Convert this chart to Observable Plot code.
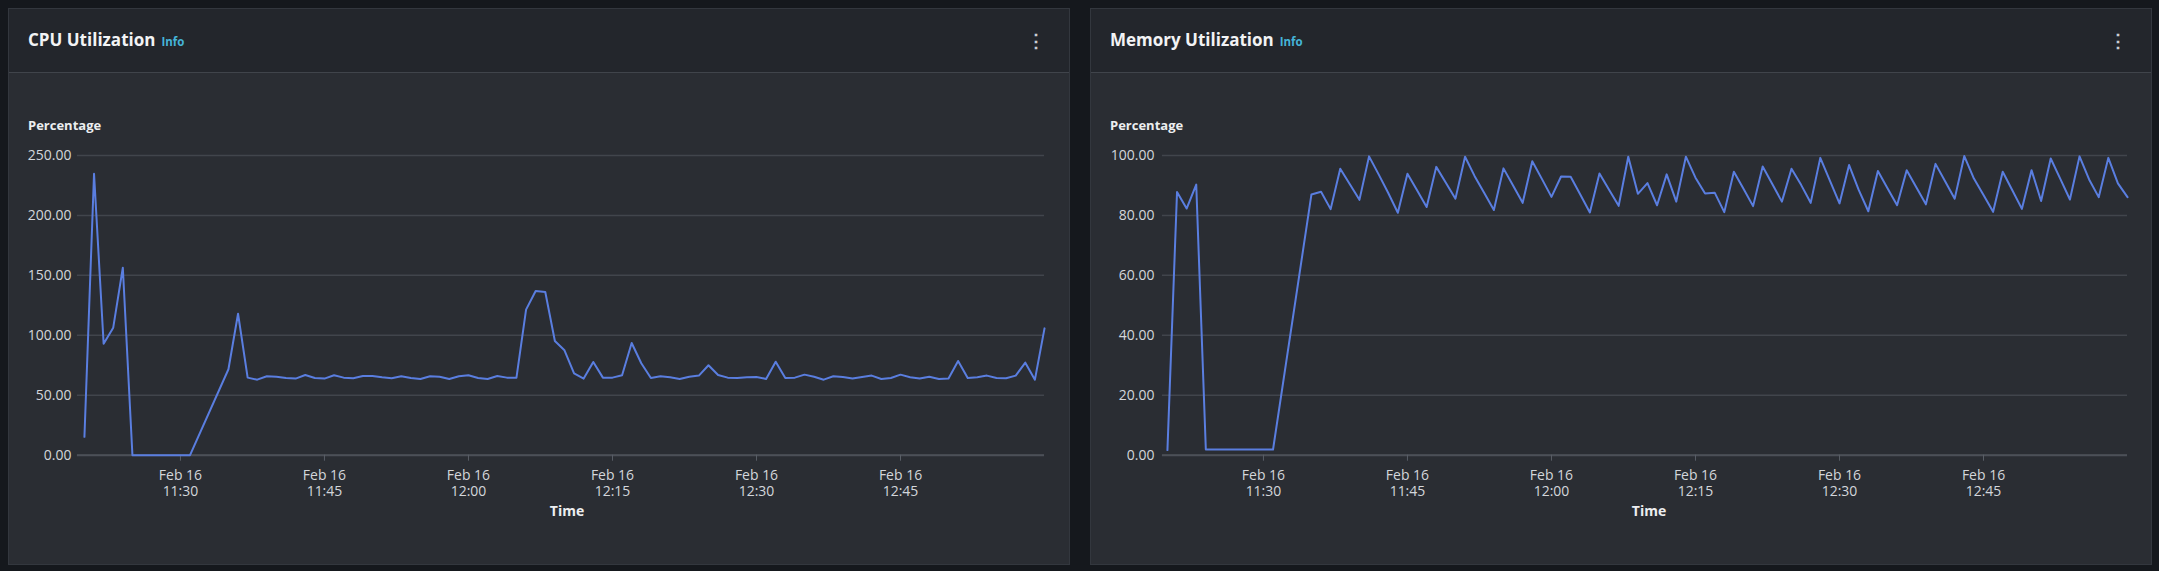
<!DOCTYPE html>
<html>
<head>
<meta charset="utf-8">
<script src="https://cdn.jsdelivr.net/npm/d3@7"></script>
<script src="https://cdn.jsdelivr.net/npm/@observablehq/plot@0.6"></script>
<style>
  html, body { margin: 0; padding: 0; }
  body { width: 2159px; height: 571px; background: #15181d; position: relative; overflow: hidden;
         font-family: "Open Sans", "Noto Sans", sans-serif; }
  .panel { position: absolute; top: 8px; width: 1062px; height: 557px; background: #2a2d33;
           border: 1px solid #33373e; box-sizing: border-box; }
  .header { position: absolute; left: 0; top: 0; right: 0; height: 64px; background: #23262c;
            border-bottom: 1px solid #40444b; box-sizing: border-box; }
  .title { position: absolute; left: 19px; top: 19px; line-height: 24px; color: #f2f3f5;
           font-weight: 700; font-size: 17px; white-space: nowrap; }
  .info { color: #45b4d8; font-size: 11.5px; font-weight: 700; margin-left: 6px; }
  .kebab { position: absolute; left: 1018px; top: 19px; width: 14px; text-align: center;
           color: #c9cdd2; font-size: 18px; line-height: 24px; font-weight: 700; }
  .ylabel { position: absolute; left: 19px; top: 107px; line-height: 18px; color: #eceef0;
            font-weight: 700; font-size: 13px; }
  .xlabel { position: absolute; left: 508px; width: 100px; text-align: center; top: 492px;
            line-height: 20px; color: #eceef0; font-weight: 700; font-size: 14px; }
  .chart { position: absolute; left: -1px; top: 131px; }
</style>
</head>
<body>
<div class="panel" id="p1" style="left:8px">
  <div class="header"></div>
  <div class="title">CPU Utilization<span class="info">Info</span></div>
  <div class="kebab">⋮</div>
  <div class="ylabel">Percentage</div>
  <div class="xlabel">Time</div>
  <div class="chart" id="c1"></div>
</div>
<div class="panel" id="p2" style="left:1090px">
  <div class="header"></div>
  <div class="title">Memory Utilization<span class="info">Info</span></div>
  <div class="kebab">⋮</div>
  <div class="ylabel">Percentage</div>
  <div class="xlabel">Time</div>
  <div class="chart" id="c2"></div>
</div>
<script>
// ---- Data (Feb 16, one-minute samples) ----
const cpuTimes = ["11:20","11:21","11:22","11:23","11:24","11:25","11:31","11:35","11:36","11:37","11:38","11:39","11:40",
  "11:41","11:42","11:43","11:44","11:45","11:46","11:47","11:48","11:49","11:50","11:51","11:52","11:53","11:54","11:55",
  "11:56","11:57","11:58","11:59","12:00","12:01","12:02","12:03","12:04","12:05","12:06","12:07","12:08","12:09","12:10",
  "12:11","12:12","12:13","12:14","12:15","12:16","12:17","12:18","12:19","12:20","12:21","12:22","12:23","12:24","12:25",
  "12:26","12:27","12:28","12:29","12:30","12:31","12:32","12:33","12:34","12:35","12:36","12:37","12:38","12:39","12:40",
  "12:41","12:42","12:43","12:44","12:45","12:46","12:47","12:48","12:49","12:50","12:51","12:52","12:53","12:54","12:55",
  "12:56","12:57","12:58","12:59","13:00"];
const cpuValues = [15.3,234.7,93,106.4,156.4,0,0,71.7,118,64.7,63,65.8,65.5,
  64.4,63.9,66.9,64.4,63.9,66.7,64.7,64.2,66.1,66.1,65,64.2,65.8,64.4,63.6,
  65.8,65.5,63.6,65.8,66.7,64.4,63.6,66.1,64.7,64.7,121.4,136.9,136.1,95.3,87.5,
  68.3,63.9,77.8,64.7,64.7,66.7,93.6,76.7,64.4,65.8,65,63.6,65.5,66.4,75,
  66.9,64.7,64.4,65,65.3,63.6,78,64.4,64.7,67.2,65.5,63,65.8,65.3,63.9,
  65.3,66.4,63.6,64.4,67.2,65,63.9,65.5,63.6,63.9,78.6,64.4,65,66.4,64.4,
  64.2,66.4,77.2,63,105.8];

const memTimes = ["11:20","11:21","11:22","11:23","11:24","11:31","11:35","11:36","11:37","11:38","11:39","11:40",
  "11:41","11:42","11:43","11:44","11:45","11:46","11:47","11:48","11:49","11:50","11:51","11:52","11:53","11:54","11:55",
  "11:56","11:57","11:58","11:59","12:00","12:01","12:02","12:03","12:04","12:05","12:06","12:07","12:08","12:09","12:10",
  "12:11","12:12","12:13","12:14","12:15","12:16","12:17","12:18","12:19","12:20","12:21","12:22","12:23","12:24","12:25",
  "12:26","12:27","12:28","12:29","12:30","12:31","12:32","12:33","12:34","12:35","12:36","12:37","12:38","12:39","12:40",
  "12:41","12:42","12:43","12:44","12:45","12:46","12:47","12:48","12:49","12:50","12:51","12:52","12:53","12:54","12:55",
  "12:56","12:57","12:58","12:59","13:00"];
const memValues = [1.7,87.8,82.3,90.3,1.9,1.9,87,87.9,82.1,95.6,90.4,85.2,
  99.7,93.7,87.5,80.9,93.9,88.4,82.8,96.2,90.9,85.6,99.6,93.1,87.5,81.8,95.7,
  90,84.2,98.1,92.2,86.2,93,92.9,87,81,94,88.6,83.2,99.6,87.2,90.8,
  83.4,93.7,84.6,99.6,92.6,87.3,87.6,81.1,94.6,88.9,83.1,96.3,90.5,84.6,95.6,
  90.2,84.2,99.2,91.6,84,96.8,88.5,81.4,94.8,89.1,83.4,95.1,89.4,83.7,97.2,
  91.4,85.6,99.8,92.3,86.8,81.2,94.6,88.4,82.2,95.1,84.8,99,92.2,85.3,99.7,
  92,86.1,99.2,90.7,86.1];

const xTickTimes = ["11:30","11:45","12:00","12:15","12:30","12:45"];
const xDomainTimes = ["11:20","13:00"];
const cpuYTicks = [0,50,100,150,200,250];
const memYTicks = [0,20,40,60,80,100];

// ---- helpers ----
function toDate(s) {
  const [h, m] = s.split(":").map(Number);
  return new Date(Date.UTC(2024, 1, 16, h, m));
}
const pad = n => String(n).padStart(2, "0");
const fmtX = d => `Feb ${d.getUTCDate()}\n${pad(d.getUTCHours())}:${pad(d.getUTCMinutes())}`;

function chart(times, values, yTicks, m) {
  const data = times.map((t, i) => ({t: toDate(t), v: values[i]}));
  return Plot.plot({
    width: 1062,
    height: 380,
    marginLeft: m.left,
    marginRight: m.right,
    marginTop: 15,
    marginBottom: 65,
    insetLeft: m.inset,
    style: {background: "transparent", color: "#d3d6db", fontFamily: "'Open Sans', 'Noto Sans', sans-serif", fontSize: "14px"},
    x: {type: "utc", domain: xDomainTimes.map(toDate)},
    y: {domain: [yTicks[0], yTicks[yTicks.length - 1]]},
    marks: [
      Plot.gridY(yTicks, {stroke: "#41454c", strokeOpacity: 1, strokeWidth: 1.5}),
      Plot.ruleY([0], {stroke: "#4c5058", strokeWidth: 2}),
      Plot.axisY(yTicks, {tickSize: 0, tickPadding: m.pad, tickFormat: d => d.toFixed(2), label: null}),
      Plot.axisX(xTickTimes.map(toDate), {tickSize: 6, tickPadding: 7, stroke: "#595e66", tickFormat: fmtX, label: null, lineHeight: 1.15}),
      Plot.lineY(data, {x: "t", y: "v", stroke: "#5a7ee0", strokeWidth: 2, curve: "linear"})
    ]
  });
}

document.getElementById("c1").appendChild(chart(cpuTimes, cpuValues, cpuYTicks, {left: 69, right: 25, inset: 7, pad: 6}));
document.getElementById("c2").appendChild(chart(memTimes, memValues, memYTicks, {left: 72, right: 24, inset: 5, pad: 8}));
</script>
</body>
</html>
